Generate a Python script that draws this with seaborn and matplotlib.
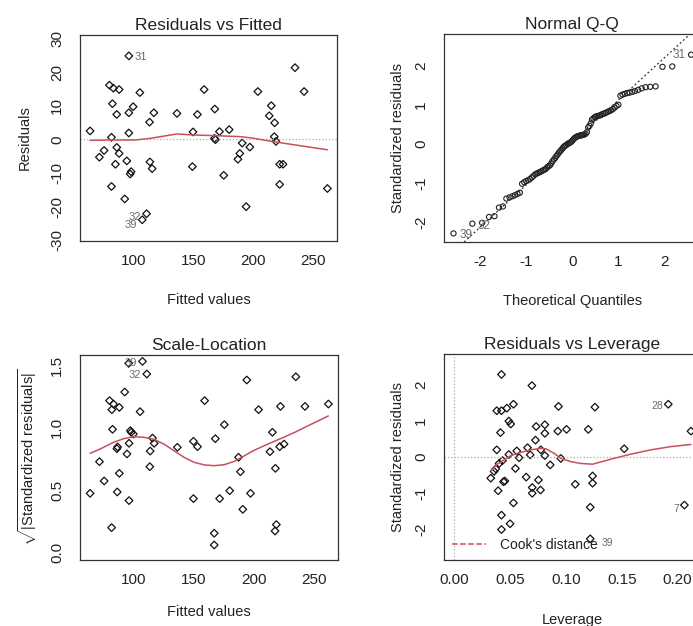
from statistics import NormalDist

import matplotlib

matplotlib.use("Agg")
import matplotlib.pyplot as plt
import numpy as np
import seaborn as sns

# --- Residuals vs Fitted ---
fitted_rf = [63.7, 71.5, 75.4, 79.9, 83.2, 88.0, 82.4, 86.0, 81.6, 86.0, 88.0, 84.9,
             81.6, 92.7, 94.4, 96.1, 96.1, 97.2, 98.0, 99.7, 96.1, 105.3, 113.4, 117.0,
             113.7, 115.6, 110.9, 107.3, 136.3, 149.7, 149.2, 153.4, 159.0, 167.9, 167.6,
             168.4, 171.8, 175.4, 179.9, 187.2, 188.8, 190.8, 194.1, 197.2, 203.9, 213.4,
             215.1, 217.9, 217.6, 219.0, 222.1, 224.9, 222.1, 234.9, 242.5, 262.0]
resid_rf = [2.5, -5.3, -3.3, 16.1, 15.2, 14.8, 10.6, 7.4, 0.6, -2.4, -4.2, -7.4,
            -14.0, -17.7, -6.4, 7.9, 1.9, -10.3, -9.6, 9.7, 24.8, 13.9, 5.1, 7.9,
            -6.7, -8.7, -22.1, -23.9, 7.7, 2.2, -8.1, 7.4, 14.8, 9.0, 0.3,
            -0.1, 2.3, -10.7, 2.9, -5.9, -4.2, -1.1, -20.0, -2.3, 14.2, 7.0,
            10.0, 4.9, 0.8, -0.6, -7.4, -7.4, -13.4, 21.3, 14.2, -14.6]
# label text -> (point index, side, horizontal gap, vertical nudge) in points
rf_labels = {"31": (20, "right", 4, -1), "32": (26, "left", 4, -2), "39": (27, "left", 4, -4)}
rf_smooth_x = [63.7, 81.0, 101.4, 114.0, 136.3, 150.0, 168.0, 189.4, 199.0, 217.0, 262.0]
rf_smooth_y = [-0.3, -0.2, -0.2, 0.3, 1.6, 1.3, 1.1, 0.8, 0.4, -0.7, -3.1]

# --- Normal Q-Q (sorted standardized residuals) ---
qq_resid = [-2.29, -2.04, -2.02, -1.87, -1.85, -1.63, -1.60, -1.40, -1.37, -1.34,
            -1.31, -1.28, -1.25, -1.02, -0.98, -0.95, -0.93, -0.90, -0.86, -0.82,
            -0.78, -0.76, -0.74, -0.72, -0.70, -0.68, -0.66, -0.64, -0.60, -0.57,
            -0.55, -0.50, -0.44, -0.40, -0.36, -0.31, -0.27, -0.22, -0.19, -0.15,
            -0.11, -0.07, -0.05, -0.03, 0.00, 0.01, 0.03, 0.05, 0.08, 0.12,
            0.15, 0.17, 0.19, 0.20, 0.21, 0.22, 0.22, 0.23, 0.24, 0.26,
            0.30, 0.42, 0.46, 0.52, 0.62, 0.65, 0.68, 0.70, 0.71, 0.72,
            0.73, 0.75, 0.77, 0.78, 0.80, 0.82, 0.84, 0.86, 0.89, 0.93,
            0.97, 1.00, 1.23, 1.26, 1.28, 1.30, 1.31, 1.33, 1.35, 1.38,
            1.42, 1.45, 1.46, 1.47, 1.97, 1.98, 2.28]
qq_labels = {"39": (0, "right", 4, -1), "32": (1, "right", 4, -2), "31": (96, "left", 4, 0)}

# --- Scale-Location ---
sl_fitted = [63.7, 71.5, 75.4, 79.9, 83.2, 81.8, 88.0, 82.4, 92.5, 86.0, 86.6, 88.0,
             86.3, 81.6, 94.4, 96.1, 97.2, 98.0, 99.7, 96.1, 95.8, 107.3, 110.9, 105.3,
             113.4, 117.0, 113.7, 115.6, 136.3, 149.7, 153.1, 149.7, 159.0, 167.9, 167.0,
             167.0, 171.5, 175.4, 179.9, 187.2, 188.8, 190.8, 194.1, 197.2, 203.9, 213.4,
             215.4, 217.9, 218.7, 217.6, 222.1, 221.5, 225.1, 234.9, 242.5, 262.0]
sl_sqrt = [0.474, 0.727, 0.573, 1.215, 1.188, 1.143, 1.161, 0.986, 1.284, 0.831, 0.845, 0.634,
           0.485, 0.200, 0.789, 0.874, 0.975, 0.962, 0.948, 0.416, 1.513, 1.529, 1.428, 1.127,
           0.687, 0.874, 0.812, 0.916, 0.842, 0.890, 0.847, 0.432, 1.215, 0.911, 0.155,
           0.061, 0.432, 1.023, 0.495, 0.762, 0.647, 0.346, 1.380, 0.474, 1.143, 0.807,
           0.962, 0.674, 0.224, 0.173, 1.169, 0.847, 0.868, 1.406, 1.169, 1.188]
sl_labels = {"39": (21, "left", 4, -1), "32": (22, "left", 4, -1)}
sl_smooth_x = [63.7, 72.0, 83.2, 91.6, 100.0, 108.4, 116.8, 125.1, 133.5, 141.9, 150.3,
               158.7, 167.0, 175.4, 183.8, 192.2, 200.6, 211.7, 222.9, 234.1, 245.3, 262.0]
sl_smooth_y = [0.794, 0.828, 0.882, 0.911, 0.927, 0.922, 0.906, 0.868, 0.815, 0.762, 0.722,
               0.701, 0.695, 0.703, 0.730, 0.775, 0.820, 0.868, 0.914, 0.962, 1.015, 1.093]

# --- Residuals vs Leverage ---
leverage = [0.0424, 0.0696, 0.0382, 0.0424, 0.0472, 0.0531, 0.0490, 0.0507, 0.0415, 0.0934,
            0.1260, 0.1200, 0.0734, 0.0812, 0.0812, 0.0928, 0.1006, 0.0728, 0.0657, 0.0561,
            0.0490, 0.0382, 0.0681, 0.0776, 0.0812, 0.0582, 0.0433, 0.0403, 0.0373, 0.0358,
            0.0328, 0.0955, 0.0860, 0.0549, 0.0645, 0.0755, 0.0442, 0.0454, 0.0394, 0.0699,
            0.0699, 0.0773, 0.1084, 0.1239, 0.1239, 0.0531, 0.1218, 0.0424, 0.0424, 0.0501,
            0.1218, 0.1522, 0.1916, 0.2060, 0.2119]
lev_resid = [2.30, 1.99, 1.29, 1.29, 1.36, 1.47, 1.00, 0.92, 0.68, 1.41,
             1.39, 0.77, 0.85, 0.90, 0.66, 0.72, 0.77, 0.47, 0.26, 0.17,
             0.07, 0.20, 0.06, 0.20, 0.04, -0.02, -0.10, -0.18, -0.33, -0.40,
             -0.59, -0.04, -0.22, -0.32, -0.56, -0.64, -0.69, -0.67, -0.94, -0.85,
             -1.01, -0.92, -0.76, -0.53, -0.73, -1.28, -1.40, -1.62, -2.02, -1.86,
             -2.28, 0.23, 1.47, -1.34, 0.72]
lev_labels = {"39": (50, "right", 8, -3), "28": (52, "left", 4, -1), "7": (53, "left", 4, -3)}
lev_smooth_x = [0.0328, 0.0388, 0.0448, 0.0507, 0.0597, 0.0687, 0.0776, 0.0821, 0.0896,
                0.0955, 0.1045, 0.1134, 0.1239, 0.1403, 0.1582, 0.1761, 0.1940, 0.2119]
lev_smooth_y = [-0.38, -0.20, -0.08, 0.04, 0.13, 0.20, 0.24, 0.23, 0.10,
                -0.04, -0.13, -0.18, -0.20, -0.06, 0.08, 0.20, 0.29, 0.35]

RED = "#c9505c"
INK = "#222222"
LABEL_GREY = "#6a6a6a"
W, H = 693, 626

sns.set_style("white")
plt.rcParams["font.family"] = ["Liberation Sans", "DejaVu Sans"]
plt.rcParams["axes.unicode_minus"] = False
plt.rcParams["mathtext.fontset"] = "custom"
plt.rcParams["mathtext.rm"] = "Liberation Sans"
plt.rcParams["mathtext.it"] = "Liberation Sans"

fig = plt.figure(figsize=(W / 100, H / 100), dpi=100)


def make_axes(left, top, right, bottom):
    return fig.add_axes([left / W, 1 - bottom / H, (right - left) / W, (bottom - top) / H])


def style_axes(ax, title, xlabel, ylabel, xlab_dy, ylab_dx, box):
    left, top, right, bottom = box
    ax.set_title(title, fontsize=12.5, pad=3.5, color=INK)
    ax.set_xlabel(xlabel, fontsize=10.5, color=INK, va="center")
    ax.set_ylabel(ylabel, fontsize=10.5, color=INK, va="center")
    ax.xaxis.set_label_coords(0.5, -xlab_dy / (bottom - top))
    ax.yaxis.set_label_coords(-ylab_dx / (right - left), 0.5)
    for spine in ax.spines.values():
        spine.set_visible(True)
        spine.set_color("#333333")
        spine.set_linewidth(0.9)
    ax.tick_params(axis="both", direction="out", length=5.5, width=0.8,
                   color="#333333", labelsize=11, labelcolor=INK)
    ax.tick_params(axis="x", pad=4)
    ax.tick_params(axis="y", pad=6, labelrotation=90)
    for lbl in ax.get_yticklabels():
        lbl.set_va("center")


def diamonds(ax, x, y):
    sns.scatterplot(x=x, y=y, ax=ax, marker="D", s=15, facecolor="none",
                    edgecolor="#111111", linewidth=0.9, legend=False)


def point_labels(ax, x, y, labels, size=8):
    for text, (idx, side, gap, dy) in labels.items():
        dx = gap if side == "right" else -gap
        ha = "left" if side == "right" else "right"
        ax.annotate(text, (x[idx], y[idx]), xytext=(dx, dy), textcoords="offset points",
                    ha=ha, va="center", fontsize=size, color=LABEL_GREY)


# Residuals vs Fitted
box1 = (80, 35, 337, 241)
ax1 = make_axes(*box1)
ax1.axhline(0, color="#aaaaaa", ls=":", lw=0.9)
diamonds(ax1, fitted_rf, resid_rf)
sns.lineplot(x=rf_smooth_x, y=rf_smooth_y, ax=ax1, color=RED, lw=1.1, sort=False,
             estimator=None)
point_labels(ax1, fitted_rf, resid_rf, rf_labels)
ax1.set_xlim(55.3, 270)
ax1.set_ylim(-30.2, 31)
ax1.set_xticks([100, 150, 200, 250])
ax1.set_yticks([-30, -20, -10, 0, 10, 20, 30])
style_axes(ax1, "Residuals vs Fitted", "Fitted values", "Residuals", 59, 55, box1)

# Normal Q-Q
box2 = (444, 34, 700.6, 242)
ax2 = make_axes(*box2)
n = len(qq_resid)
theo = [NormalDist().inv_cdf((i + 0.5) / n) for i in range(n)]
q1, q3 = np.quantile(qq_resid, [0.25, 0.75])
z1, z3 = NormalDist().inv_cdf(0.25), NormalDist().inv_cdf(0.75)
slope = (q3 - q1) / (z3 - z1)
intercept = q1 - slope * z1
ax2.axline((0, intercept), slope=slope, color="#333333", ls=(0, (1.5, 2)), lw=0.9)
sns.scatterplot(x=theo, y=qq_resid, ax=ax2, marker="o", s=14, facecolor="none",
                edgecolor="#222222", linewidth=0.8, legend=False)
point_labels(ax2, theo, qq_resid, qq_labels, size=8.5)
ax2.set_xlim(-2.77, 2.77)
ax2.set_ylim(-2.51, 2.81)
ax2.set_xticks([-2, -1, 0, 1, 2])
ax2.set_yticks([-2, -1, 0, 1, 2])
style_axes(ax2, "Normal Q-Q", "Theoretical Quantiles", "Standardized residuals",
           59, 46, box2)

# Scale-Location
box3 = (80, 355, 338, 560)
ax3 = make_axes(*box3)
diamonds(ax3, sl_fitted, sl_sqrt)
sns.lineplot(x=sl_smooth_x, y=sl_smooth_y, ax=ax3, color=RED, lw=1.1, sort=False,
             estimator=None)
point_labels(ax3, sl_fitted, sl_sqrt, sl_labels)
ax3.set_xlim(55.3, 270)
ax3.set_ylim(-0.059, 1.58)
ax3.set_xticks([100, 150, 200, 250])
ax3.set_yticks([0.0, 0.5, 1.0, 1.5])
ax3.set_yticklabels(["0.0", "0.5", "1.0", "1.5"])
style_axes(ax3, "Scale-Location", "Fitted values",
           r"$\sqrt{|\mathrm{Standardized\ residuals}|}$", 52, 52, box3)

# Residuals vs Leverage
box4 = (444, 354, 700.6, 560)
ax4 = make_axes(*box4)
ax4.axhline(0, color="#aaaaaa", ls=":", lw=0.9)
ax4.axvline(0, color="#aaaaaa", ls=":", lw=0.9)
diamonds(ax4, leverage, lev_resid)
sns.lineplot(x=lev_smooth_x, y=lev_smooth_y, ax=ax4, color=RED, lw=1.1, sort=False,
             estimator=None)
ax4.plot([], [], color=RED, ls="--", lw=1.1, label="Cook's distance")
point_labels(ax4, leverage, lev_resid, lev_labels, size=7.5)
ax4.set_xlim(-0.009, 0.2205)
ax4.set_ylim(-2.87, 2.87)
ax4.set_xticks([0.0, 0.05, 0.10, 0.15, 0.20])
ax4.set_xticklabels(["0.00", "0.05", "0.10", "0.15", "0.20"])
ax4.set_yticks([-2, -1, 0, 1, 2])
ax4.legend(loc="lower left", frameon=False, fontsize=10, handlelength=2.4,
           handletextpad=1.0, borderaxespad=0.2, labelcolor=INK)
style_axes(ax4, "Residuals vs Leverage", "Leverage", "Standardized residuals",
           60, 46, box4)

fig.savefig("out.png", dpi=100)
plt.close(fig)
